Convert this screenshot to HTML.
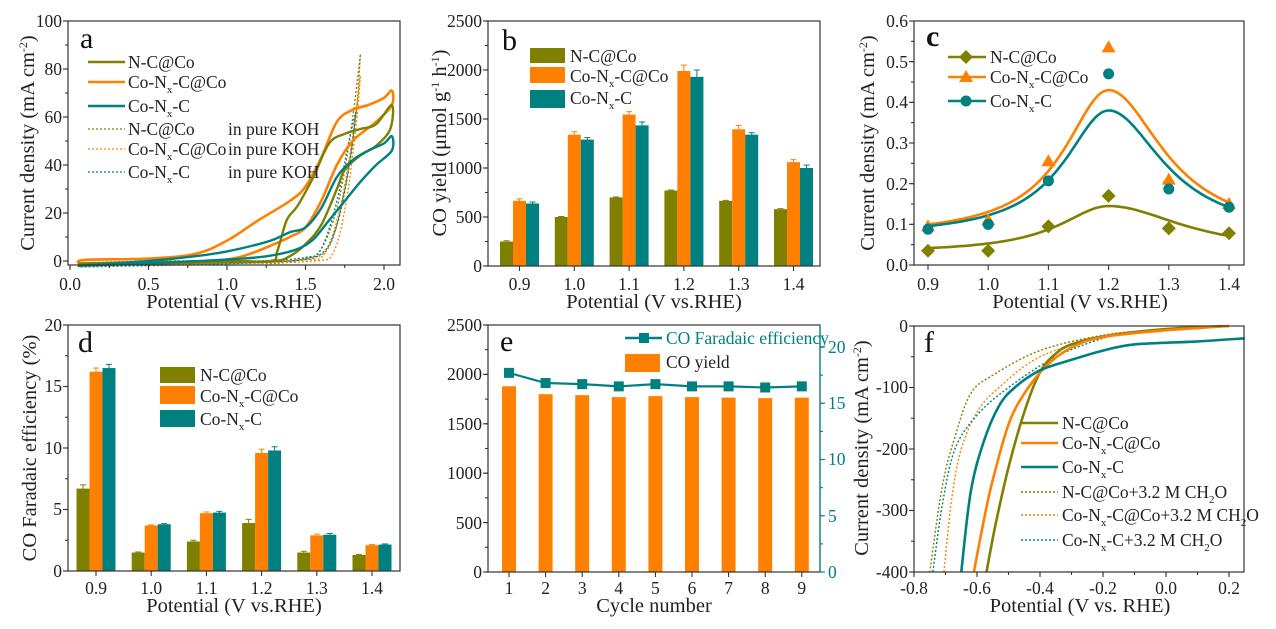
<!DOCTYPE html>
<html><head><meta charset="utf-8"><style>
html,body{margin:0;padding:0;background:#fff;}
svg{display:block;font-family:"Liberation Serif",serif;}
.t{font-size:17.5px;fill:#222;}
.ti{font-size:20.5px;fill:#222;}
.lg{font-size:17.5px;fill:#222;}
.pl{font-size:30px;fill:#111;}
</style></head><body>
<svg id="s" width="1276" height="629" viewBox="0 0 1276 629" xmlns="http://www.w3.org/2000/svg">
<g id="data"></g>
<g id="frames" fill="none" stroke="#333" stroke-width="1.2">
<rect x="68" y="21" width="332" height="244"/>
<rect x="488" y="21" width="332" height="245"/>
<rect x="914" y="21" width="330" height="244"/>
<rect x="68" y="325" width="332" height="246"/>
<rect x="488" y="325" width="332" height="247"/>
<line x1="820" y1="325" x2="820" y2="572" stroke="#008080"/>
<rect x="914" y="326" width="330" height="246"/>
</g>
<g id="ticks" stroke="#333" stroke-width="1.1"></g>

<text class="pl" x="80" y="48">a</text>
<text class="pl" x="502" y="50">b</text>
<text class="pl" x="926" y="46" font-weight="bold">c</text>
<text class="pl" x="78" y="352">d</text>
<text class="pl" x="500" y="351">e</text>
<text class="pl" x="924" y="352">f</text>

<g class="t" text-anchor="end">
<text x="62" y="267">0</text><text x="62" y="219">20</text><text x="62" y="171">40</text><text x="62" y="123">60</text><text x="62" y="75">80</text><text x="62" y="27">100</text>
</g>
<g class="t" text-anchor="middle">
<text x="70" y="290">0.0</text><text x="148.5" y="290">0.5</text><text x="227" y="290">1.0</text><text x="305.5" y="290">1.5</text><text x="384" y="290">2.0</text>
</g>
<text class="ti" x="234" y="308" text-anchor="middle">Potential (V vs.RHE)</text>
<text class="ti" transform="translate(34,143) rotate(-90)" text-anchor="middle">Current density (mA cm<tspan dy="-7" font-size="12">-2</tspan><tspan dy="7">)</tspan></text>
<g class="lg">
<text x="128" y="68">N-C@Co</text>
<text x="128" y="88">Co-N<tspan dy="5" font-size="11">x</tspan><tspan dy="-5">-C@Co</tspan></text>
<text x="128" y="112">Co-N<tspan dy="5" font-size="11">x</tspan><tspan dy="-5">-C</tspan></text>
<text x="128" y="135">N-C@Co</text><text x="228" y="135">in pure KOH</text>
<text x="128" y="155">Co-N<tspan dy="5" font-size="11">x</tspan><tspan dy="-5">-C@Co</tspan></text><text x="228" y="155">in pure KOH</text>
<text x="128" y="178">Co-N<tspan dy="5" font-size="11">x</tspan><tspan dy="-5">-C</tspan></text><text x="228" y="178">in pure KOH</text>
</g>

<g class="t" text-anchor="end">
<text x="482" y="272">0</text><text x="482" y="223">500</text><text x="482" y="174">1000</text><text x="482" y="125">1500</text><text x="482" y="76">2000</text><text x="482" y="27">2500</text>
</g>
<g class="t" text-anchor="middle">
<text x="519.5" y="290">0.9</text><text x="574.3" y="290">1.0</text><text x="629.1" y="290">1.1</text><text x="683.9" y="290">1.2</text><text x="738.7" y="290">1.3</text><text x="793.5" y="290">1.4</text>
</g>
<text class="ti" x="654" y="308" text-anchor="middle">Potential (V vs.RHE)</text>
<text class="ti" transform="translate(446,143) rotate(-90)" text-anchor="middle">CO yield (μmol g<tspan dy="-7" font-size="12">-1</tspan><tspan dy="7"> h</tspan><tspan dy="-7" font-size="12">-1</tspan><tspan dy="7">)</tspan></text>
<rect x="530" y="48" width="35" height="15" fill="#808000"/>
<rect x="530" y="67" width="35" height="16" fill="#ff8000"/>
<rect x="530" y="90" width="35" height="18" fill="#008080"/>
<g class="lg">
<text x="570" y="62">N-C@Co</text>
<text x="570" y="82">Co-N<tspan dy="5" font-size="11">x</tspan><tspan dy="-5">-C@Co</tspan></text>
<text x="570" y="104">Co-N<tspan dy="5" font-size="11">x</tspan><tspan dy="-5">-C</tspan></text>
</g>

<g class="t" text-anchor="end">
<text x="908" y="271">0.0</text><text x="908" y="230">0.1</text><text x="908" y="190">0.2</text><text x="908" y="149">0.3</text><text x="908" y="108">0.4</text><text x="908" y="68">0.5</text><text x="908" y="27">0.6</text>
</g>
<g class="t" text-anchor="middle">
<text x="928" y="290">0.9</text><text x="988.2" y="290">1.0</text><text x="1048.4" y="290">1.1</text><text x="1108.6" y="290">1.2</text><text x="1168.8" y="290">1.3</text><text x="1229" y="290">1.4</text>
</g>
<text class="ti" x="1080" y="308" text-anchor="middle">Potential (V vs.RHE)</text>
<text class="ti" transform="translate(874,143) rotate(-90)" text-anchor="middle">Current density (mA cm<tspan dy="-7" font-size="12">-2</tspan><tspan dy="7">)</tspan></text>
<g class="lg">
<text x="990" y="63">N-C@Co</text>
<text x="990" y="83">Co-N<tspan dy="5" font-size="11">x</tspan><tspan dy="-5">-C@Co</tspan></text>
<text x="990" y="107">Co-N<tspan dy="5" font-size="11">x</tspan><tspan dy="-5">-C</tspan></text>
</g>

<g class="t" text-anchor="end">
<text x="62" y="577">0</text><text x="62" y="515">5</text><text x="62" y="454">10</text><text x="62" y="392">15</text><text x="62" y="331">20</text>
</g>
<g class="t" text-anchor="middle">
<text x="96" y="594">0.9</text><text x="151.2" y="594">1.0</text><text x="206.4" y="594">1.1</text><text x="261.6" y="594">1.2</text><text x="316.8" y="594">1.3</text><text x="372" y="594">1.4</text>
</g>
<text class="ti" x="234" y="612" text-anchor="middle">Potential (V vs.RHE)</text>
<text class="ti" transform="translate(36,448) rotate(-90)" text-anchor="middle">CO Faradaic efficiency (%)</text>
<rect x="160" y="367" width="35" height="16" fill="#808000"/>
<rect x="160" y="386" width="35" height="18" fill="#ff8000"/>
<rect x="160" y="410" width="35" height="17" fill="#008080"/>
<g class="lg">
<text x="200" y="381">N-C@Co</text>
<text x="200" y="402">Co-N<tspan dy="5" font-size="11">x</tspan><tspan dy="-5">-C@Co</tspan></text>
<text x="200" y="425">Co-N<tspan dy="5" font-size="11">x</tspan><tspan dy="-5">-C</tspan></text>
</g>

<g class="t" text-anchor="end">
<text x="482" y="578">0</text><text x="482" y="529">500</text><text x="482" y="479">1000</text><text x="482" y="430">1500</text><text x="482" y="380">2000</text><text x="482" y="331">2500</text>
</g>
<g class="t" style="fill:#008080">
<text x="828" y="578">0</text><text x="828" y="522">5</text><text x="828" y="465">10</text><text x="828" y="409">15</text><text x="828" y="353">20</text>
</g>
<g class="t" text-anchor="middle">
<text x="509" y="594">1</text><text x="545.6" y="594">2</text><text x="582.2" y="594">3</text><text x="618.8" y="594">4</text><text x="655.4" y="594">5</text><text x="692" y="594">6</text><text x="728.6" y="594">7</text><text x="765.2" y="594">8</text><text x="801.8" y="594">9</text>
</g>
<text class="ti" x="654" y="612" text-anchor="middle">Cycle number</text>
<line x1="625" y1="338" x2="662" y2="338" stroke="#008080" stroke-width="2.5"/>
<rect x="639" y="333" width="10" height="10" fill="#008080"/>
<rect x="625" y="354" width="35" height="18" fill="#ff8000"/>
<text class="lg" x="666" y="344" style="fill:#008080">CO Faradaic efficiency</text>
<text class="lg" x="666" y="368">CO yield</text>

<g class="t" text-anchor="end">
<text x="908" y="332">0</text><text x="908" y="393">-100</text><text x="908" y="455">-200</text><text x="908" y="516">-300</text><text x="908" y="578">-400</text>
</g>
<g class="t" text-anchor="middle">
<text x="914" y="594">-0.8</text><text x="977" y="594">-0.6</text><text x="1040" y="594">-0.4</text><text x="1103" y="594">-0.2</text><text x="1166" y="594">0.0</text><text x="1229" y="594">0.2</text>
</g>
<text class="ti" x="1080" y="612" text-anchor="middle">Potential (V vs. RHE)</text>
<text class="ti" transform="translate(868,448) rotate(-90)" text-anchor="middle">Current density (mA cm<tspan dy="-7" font-size="12">-2</tspan><tspan dy="7">)</tspan></text>
<g class="lg">
<text x="1062" y="429">N-C@Co</text>
<text x="1062" y="449">Co-N<tspan dy="5" font-size="11">x</tspan><tspan dy="-5">-C@Co</tspan></text>
<text x="1062" y="473">Co-N<tspan dy="5" font-size="11">x</tspan><tspan dy="-5">-C</tspan></text>
<text x="1062" y="498">N-C@Co+3.2 M CH<tspan dy="5" font-size="11">2</tspan><tspan dy="-5">O</tspan></text>
<text x="1062" y="521">Co-N<tspan dy="5" font-size="11">x</tspan><tspan dy="-5">-C@Co+3.2 M CH</tspan><tspan dy="5" font-size="11">2</tspan><tspan dy="-5">O</tspan></text>
<text x="1062" y="546">Co-N<tspan dy="5" font-size="11">x</tspan><tspan dy="-5">-C+3.2 M CH</tspan><tspan dy="5" font-size="11">2</tspan><tspan dy="-5">O</tspan></text>
</g>
</svg>
<script>
(function(){
var NS="http://www.w3.org/2000/svg",D=document.getElementById("data"),T=document.getElementById("ticks");
var OL="#808000",OR="#ff8000",TE="#008080";
function el(n,a,p){var e=document.createElementNS(NS,n);for(var k in a)e.setAttribute(k,a[k]);(p||D).appendChild(e);return e;}
function lin(a0,a1,b0,b1){return function(v){return b0+(v-a0)/(a1-a0)*(b1-b0);};}
function smooth(pts){var d="M"+pts[0][0].toFixed(1)+","+pts[0][1].toFixed(1);
 for(var i=0;i<pts.length-1;i++){var p0=pts[i-1]||pts[i],p1=pts[i],p2=pts[i+1],p3=pts[i+2]||p2;
 d+="C"+(p1[0]+(p2[0]-p0[0])/6).toFixed(1)+","+(p1[1]+(p2[1]-p0[1])/6).toFixed(1)+" "+(p2[0]-(p3[0]-p1[0])/6).toFixed(1)+","+(p2[1]-(p3[1]-p1[1])/6).toFixed(1)+" "+p2[0].toFixed(1)+","+p2[1].toFixed(1);}
 return d;}
function curve(X,Y,data,col,w,dash){var pts=data.map(function(p){return [X(p[0]),Y(p[1])];});
 var a={d:smooth(pts),fill:"none",stroke:col,"stroke-width":w,"stroke-linejoin":"round"};if(dash)a["stroke-dasharray"]=dash;el("path",a);}
function yt(x,ys,len,col){ys.forEach(function(y){el("line",{x1:x,y1:y,x2:x-len,y2:y,stroke:col||"#333"},T);});}
function xt(y,xs,len){xs.forEach(function(x){el("line",{x1:x,y1:y,x2:x,y2:y+len},T);});}
function range(a,b,n){var r=[];for(var i=0;i<=n;i++)r.push(a+(b-a)*i/n);return r;}
yt(68,range(261,21,5),5);yt(68,range(261,21,10),3);xt(265,range(70,384,4),5);xt(265,range(70,384,8),3);
yt(488,range(266,21,5),5);yt(488,range(266,21,10),3);xt(266,range(519.5,793.5,5),5);
yt(914,range(265,21,6),5);yt(914,range(265,21,12),3);xt(265,range(928,1229,5),5);
yt(68,range(571,325,4),5);yt(68,range(571,325,8),3);xt(571,range(96,372,5),5);
yt(488,range(572,325,5),5);yt(488,range(572,325,10),3);xt(572,range(509,801.8,8),5);
yt(820,range(572,347,4),-5,TE);yt(820,range(572,347,8),-3,TE);
yt(914,range(326,572,4),5);yt(914,range(326,572,8),3);xt(572,range(914,1229,5),5);xt(572,range(914,1229,10),3);

var ax=lin(0,2,70,384),ay=lin(0,100,261,21);
curve(ax,ay,[[0.05,-1],[0.2,-0.5],[0.6,0],[1.0,0],[1.3,-1],[1.5,1],[1.6,5],[1.7,22],[1.78,50],[1.85,86]],OL,1.3,"2,2");
curve(ax,ay,[[1.85,86],[1.82,60],[1.75,30],[1.65,6],[1.5,1],[1.2,-0.5],[0.5,-1],[0.05,-1.5]],OL,1.3,"2,2");
curve(ax,ay,[[0.05,-1],[0.6,0],[1.2,0],[1.5,0.5],[1.62,3],[1.72,22],[1.8,52],[1.85,77]],OR,1.3,"2,2");
curve(ax,ay,[[1.85,77],[1.82,55],[1.76,25],[1.68,4],[1.55,0],[1.0,-1],[0.05,-1.5]],OR,1.3,"2,2");
curve(ax,ay,[[0.05,-2],[0.6,-1],[1.2,0],[1.5,1.5],[1.6,5],[1.7,25],[1.77,48],[1.82,62]],TE,1.3,"2,2");
curve(ax,ay,[[1.82,62],[1.78,40],[1.7,15],[1.6,3],[1.4,0],[0.8,-1.5],[0.05,-2.5]],TE,1.3,"2,2");
curve(ax,ay,[[0.05,-1],[0.1,0.5],[0.5,1],[0.8,3],[1.0,8.5],[1.2,17],[1.4,25],[1.5,31],[1.6,43],[1.7,58],[1.8,63],[1.9,65],[2.0,68],[2.05,71],[2.05,65],[1.95,58],[1.8,50],[1.7,40],[1.6,25],[1.5,14],[1.4,10],[1.3,7],[1.1,2],[0.9,0],[0.5,-1],[0.1,-1]],OR,2.6);
curve(ax,ay,[[0.05,-1],[0.5,-0.5],[1.0,0],[1.28,0],[1.32,4],[1.38,17],[1.45,23],[1.55,35],[1.65,49],[1.75,53],[1.85,55],[1.95,57],[2.05,65],[2.04,55],[1.95,48],[1.85,44],[1.75,38],[1.7,30],[1.6,15],[1.5,7],[1.4,2],[1.3,0],[1.0,-0.5],[0.5,-1]],OL,2.4);
curve(ax,ay,[[0.05,-2],[0.5,0],[0.8,2],[1.0,4],[1.2,7],[1.3,9],[1.4,12],[1.5,14],[1.6,22],[1.7,35],[1.8,42],[1.9,46],[2.0,49],[2.05,52],[2.05,46],[1.95,40],[1.85,33],[1.75,25],[1.65,17],[1.55,9],[1.45,5],[1.3,2.5],[1.1,1],[0.5,-1],[0.05,-2]],TE,2.4);
[[OL,62,0],[OR,82,0],[TE,106,0],[OL,129,1],[OR,149,1],[TE,172,1]].forEach(function(r){var a={x1:88,x2:125,y1:r[1],y2:r[1],stroke:r[0],"stroke-width":r[2]?1.3:2.6};if(r[2])a["stroke-dasharray"]="2,2";el("line",a);});

function bars(cx0,sp,Y,sets,errs,bw){sets.forEach(function(s,j){s[1].forEach(function(v,i){var x=cx0+sp*i+(j-1)*bw-bw/2,y=Y(v),y0=Y(0);
 if(errs&&errs[j]){var e=errs[j][i],ye=Y(v+e),xc=x+bw/2;el("line",{x1:xc,x2:xc,y1:y,y2:ye,stroke:s[0],"stroke-width":1});el("line",{x1:xc-3,x2:xc+3,y1:ye,y2:ye,stroke:s[0],"stroke-width":1});}
 el("rect",{x:x,y:y,width:bw,height:y0-y,fill:s[0]});});});}
var by=lin(0,2500,266,21);
bars(519.5,54.8,by,[[OL,[250,500,700,770,665,580]],[OR,[665,1340,1545,1990,1395,1060]],[TE,[638,1290,1435,1930,1340,1000]]],
 [[8,5,5,5,5,5],[20,30,30,60,40,25],[15,20,35,70,20,30]],13);
var dy=lin(0,20,571,325);
bars(96,55.2,dy,[[OL,[6.7,1.5,2.4,3.9,1.5,1.3]],[OR,[16.2,3.7,4.7,9.6,2.9,2.1]],[TE,[16.5,3.8,4.75,9.8,2.95,2.15]]],
 [[0.3,0.05,0.1,0.3,0.1,0.05],[0.3,0.05,0.1,0.3,0.1,0.05],[0.3,0.05,0.1,0.3,0.1,0.05]],13);

var cx=lin(0.9,1.4,928,1229),cy=lin(0,0.6,265,21);
function lor(y0,A,wl,wr){var p=[];for(var v=0.9;v<=1.4001;v+=0.01){var w=v<1.2?wl:wr;p.push([v,y0+A/(1+Math.pow((v-1.2)/w,2))]);}return p;}
curve(cx,cy,lor(0.03,0.115,0.1,0.15),OL,2.6);
curve(cx,cy,lor(0.07,0.36,0.09,0.11),OR,2.6);
curve(cx,cy,lor(0.07,0.31,0.09,0.11),TE,2.6);
function diamond(x,y,c){el("path",{d:"M"+x+","+(y-7)+"L"+(x+7)+","+y+"L"+x+","+(y+7)+"L"+(x-7)+","+y+"Z",fill:c});}
function tri(x,y,c){el("path",{d:"M"+x+","+(y-7)+"L"+(x+7)+","+(y+5)+"L"+(x-7)+","+(y+5)+"Z",fill:c});}
function circ(x,y,c){el("circle",{cx:x,cy:y,r:5.5,fill:c});}
var xs=[0.9,1.0,1.1,1.2,1.3,1.4];
[0.035,0.035,0.095,0.17,0.09,0.078].forEach(function(v,i){diamond(cx(xs[i]),cy(v),OL);});
[0.095,0.11,0.255,0.535,0.21,0.15].forEach(function(v,i){tri(cx(xs[i]),cy(v),OR);});
[0.088,0.1,0.207,0.47,0.187,0.142].forEach(function(v,i){circ(cx(xs[i]),cy(v),TE);});
el("line",{x1:948,x2:986,y1:57,y2:57,stroke:OL,"stroke-width":2.6});diamond(966,57,OL);
el("line",{x1:948,x2:986,y1:77,y2:77,stroke:OR,"stroke-width":2.6});tri(966,77,OR);
el("line",{x1:948,x2:986,y1:101,y2:101,stroke:TE,"stroke-width":2.6});circ(966,101,TE);

var ey=lin(0,2500,572,325),er=lin(0,20,572,347);
[1880,1800,1790,1770,1780,1770,1765,1760,1765].forEach(function(v,i){var x=509+36.6*i;el("rect",{x:x-7,y:ey(v),width:14,height:572-ey(v),fill:OR});});
var fe=[17.7,16.8,16.7,16.5,16.7,16.5,16.5,16.4,16.5];
el("polyline",{points:fe.map(function(v,i){return (509+36.6*i)+","+er(v);}).join(" "),fill:"none",stroke:TE,"stroke-width":2.2});
fe.forEach(function(v,i){el("rect",{x:509+36.6*i-5,y:er(v)-5,width:10,height:10,fill:TE});});

var fx=lin(-0.8,0.2,914,1229),fy=lin(0,-400,326,572);
curve(fx,fy,[[0.2,0],[0,-5],[-0.2,-15],[-0.4,-40],[-0.55,-80],[-0.62,-110],[-0.67,-180],[-0.71,-260],[-0.75,-400]],OL,1.4,"2,2");
curve(fx,fy,[[0.15,0],[0,-7],[-0.2,-18],[-0.4,-50],[-0.53,-100],[-0.6,-140],[-0.65,-200],[-0.68,-280],[-0.705,-400]],OR,1.4,"2,2");
curve(fx,fy,[[0.1,-3],[-0.1,-10],[-0.2,-20],[-0.35,-50],[-0.5,-100],[-0.6,-145],[-0.67,-200],[-0.71,-290],[-0.74,-400]],TE,1.4,"2,2");
curve(fx,fy,[[0.2,0],[0,-5],[-0.2,-17],[-0.3,-30],[-0.35,-45],[-0.4,-75],[-0.45,-140],[-0.5,-230],[-0.54,-320],[-0.57,-400]],OL,2.6);
curve(fx,fy,[[0.2,0],[0,-7],[-0.2,-18],[-0.3,-35],[-0.38,-65],[-0.45,-110],[-0.5,-160],[-0.55,-250],[-0.58,-320],[-0.61,-400]],OR,2.6);
curve(fx,fy,[[0.25,-20],[0.1,-25],[-0.1,-30],[-0.2,-40],[-0.3,-55],[-0.4,-72],[-0.48,-100],[-0.53,-130],[-0.58,-190],[-0.62,-270],[-0.65,-400]],TE,2.6);
[[OL,423,0],[OR,443,0],[TE,467,0],[OL,492,1],[OR,515,1],[TE,540,1]].forEach(function(r){var a={x1:1021,x2:1058,y1:r[1],y2:r[1],stroke:r[0],"stroke-width":r[2]?1.4:2.6};if(r[2])a["stroke-dasharray"]="2,2";el("line",a);});
})();
</script>
</body></html>
